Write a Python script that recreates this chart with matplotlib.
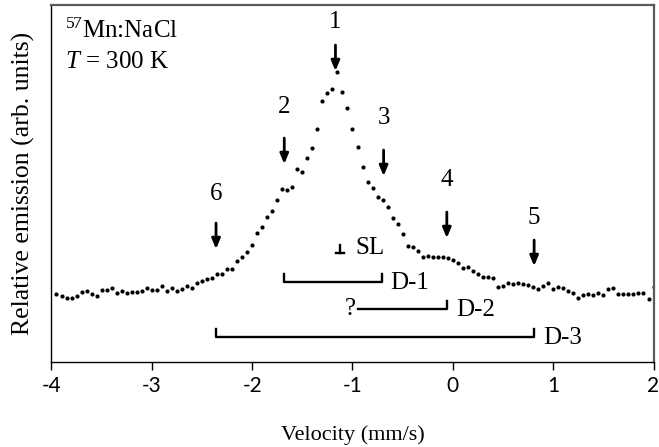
"""Emission Mossbauer spectrum of 57Mn:NaCl at 300 K with line assignments."""
import matplotlib
matplotlib.use("Agg")
import matplotlib.pyplot as plt

# channel velocities (mm/s)
velocity = [
    -3.95, -3.90, -3.85, -3.80, -3.75, -3.70, -3.65, -3.60, -3.55, -3.50,
    -3.45, -3.40, -3.35, -3.30, -3.25, -3.20, -3.15, -3.10, -3.05, -3.00,
    -2.95, -2.90, -2.85, -2.80, -2.75, -2.70, -2.65, -2.60, -2.55, -2.50,
    -2.45, -2.40, -2.35, -2.30, -2.25, -2.20, -2.15, -2.10, -2.05, -2.00,
    -1.95, -1.90, -1.85, -1.80, -1.75, -1.70, -1.65, -1.60, -1.55, -1.50,
    -1.45, -1.40, -1.35, -1.30, -1.25, -1.20, -1.15, -1.10, -1.05, -1.00,
    -0.95, -0.90, -0.85, -0.80, -0.75, -0.70, -0.65, -0.60, -0.55, -0.50,
    -0.45, -0.40, -0.35, -0.30, -0.25, -0.20, -0.15, -0.10, -0.05, 0.00,
    0.05, 0.10, 0.15, 0.20, 0.25, 0.30, 0.35, 0.40, 0.45, 0.50,
    0.55, 0.60, 0.65, 0.70, 0.75, 0.80, 0.85, 0.90, 0.95, 1.00,
    1.05, 1.10, 1.15, 1.20, 1.25, 1.30, 1.35, 1.40, 1.45, 1.50,
    1.55, 1.60, 1.65, 1.70, 1.75, 1.80, 1.85, 1.90, 1.95, 2.00,
]

# relative emission (arb. units)
emission = [
    68.0, 66.3, 64.0, 64.0, 65.7, 69.7, 71.0, 68.0, 65.7, 71.7,
    71.7, 74.3, 68.7, 71.0, 69.3, 70.0, 70.0, 71.0, 74.3, 71.7,
    72.0, 76.3, 71.3, 73.7, 71.0, 73.0, 76.0, 74.3, 79.0, 80.7,
    83.0, 84.0, 87.7, 88.0, 92.7, 92.7, 101.3, 104.7, 110.0, 117.0,
    128.7, 135.3, 145.3, 151.0, 162.0, 172.7, 172.0, 175.3, 192.7, 190.3,
    203.7, 213.7, 232.7, 261.3, 268.7, 273.0, 289.7, 270.0, 253.7, 232.7,
    215.3, 195.3, 180.3, 173.7, 165.3, 162.0, 155.3, 143.7, 138.0, 127.7,
    116.0, 114.7, 111.3, 105.3, 106.0, 105.3, 104.7, 104.7, 103.7, 102.0,
    99.0, 94.0, 95.0, 91.5, 88.0, 85.5, 85.5, 84.5, 75.3, 76.3,
    79.3, 78.0, 79.3, 78.0, 77.0, 75.3, 72.7, 76.0, 79.3, 72.7,
    74.7, 73.7, 71.3, 69.3, 63.7, 67.0, 68.0, 67.0, 68.7, 67.0,
    72.7, 74.3, 68.0, 67.7, 67.7, 67.7, 68.7, 69.3, 62.7, 74.7,
]

# numbered line positions, arrow tails and label heights
line_labels = ["1", "2", "3", "4", "5", "6"]
line_velocity = [-1.17, -1.68, -0.69, -0.06, 0.81, -2.36]
arrow_top = [317, 224, 212, 150, 122, 139]
label_level = [340, 255, 244, 182, 144, 168]

# doublet brackets
doublet_labels = ["D-1", "D-2", "D-3"]
doublet_left = [-1.68, -0.95, -2.36]
doublet_right = [-0.71, -0.06, 0.81]
doublet_level = [80, 53, 25]
singlet_velocity = -1.12
singlet_level = 109

SERIF = "Liberation Serif"
FS = 18


def main() -> None:
    plt.rcParams["axes.unicode_minus"] = False
    plt.rcParams["mathtext.fontset"] = "custom"
    plt.rcParams["mathtext.rm"] = SERIF
    plt.rcParams["mathtext.it"] = SERIF + ":italic"

    fig = plt.figure(figsize=(6.59, 4.47), dpi=100)
    ax = fig.add_axes([0.0781, 0.190, 0.9136, 0.7987])

    ax.plot(velocity, emission, "o", color="black", markersize=3.0, markeredgewidth=0)

    for lab, v, top, ly in zip(line_labels, line_velocity, arrow_top, label_level):
        ax.annotate("", xy=(v, top - 26), xytext=(v, top),
                    arrowprops=dict(arrowstyle="-|>,head_length=0.6,head_width=0.25",
                                    color="black", lw=2.0, shrinkA=0, shrinkB=0))
        ax.text(v, ly, lab, ha="center", va="center", fontsize=FS, family=SERIF)

    tick = 8
    for lab, x0, x1, y in zip(doublet_labels, doublet_left, doublet_right, doublet_level):
        if lab == "D-2":
            ax.plot([x0, x1, x1], [y, y, y + tick], color="black", lw=1.7)
            ax.text(x0 - 0.02, y, "?", ha="right", va="center", fontsize=FS, family=SERIF)
        else:
            ax.plot([x0, x0, x1, x1], [y + tick, y, y, y + tick], color="black", lw=1.7)
        ax.text(x1 + 0.09, y - 1, lab, ha="left", va="center", fontsize=FS, family=SERIF)

    # singlet marker
    ax.plot([singlet_velocity, singlet_velocity], [singlet_level, singlet_level + 8],
            color="black", lw=1.7)
    ax.plot([singlet_velocity - 0.04, singlet_velocity + 0.04], [singlet_level, singlet_level],
            color="black", lw=1.7)
    ax.text(singlet_velocity + 0.15, singlet_level + 5, "SL", ha="left", va="center",
            fontsize=FS, family=SERIF)

    ax.text(0.0224, 0.9076, "$^{57}$Mn:NaCl", transform=ax.transAxes, ha="left",
            va="baseline", fontsize=FS, family=SERIF)
    ax.text(0.0224, 0.8235, "$T$ = 300 K", transform=ax.transAxes, ha="left",
            va="baseline", fontsize=FS, family=SERIF)

    ax.set_xlim(-4, 2)
    ax.set_ylim(0, 357)
    ax.set_xticks([-4, -3, -2, -1, 0, 1, 2])
    ax.set_xticklabels(["-4", "-3", "-2", "-1", "0", "1", "2"], family="Lato", fontsize=15)
    ax.tick_params(axis="x", direction="out", length=6, width=1.0, pad=4, color="black")
    ax.set_yticks([])

    for side in ["left", "bottom"]:
        ax.spines[side].set_color("black")
        ax.spines[side].set_linewidth(1.0)
    for side in ["top", "right"]:
        ax.spines[side].set_color("#5a5a5a")
        ax.spines[side].set_linewidth(1.6)

    ax.set_xlabel("Velocity (mm/s)", family=SERIF, fontsize=16, labelpad=21)
    ax.set_ylabel("Relative emission (arb. units)", family=SERIF, fontsize=18.5, labelpad=12)

    fig.savefig("out.png", dpi=100)
    plt.close(fig)


if __name__ == "__main__":
    main()
